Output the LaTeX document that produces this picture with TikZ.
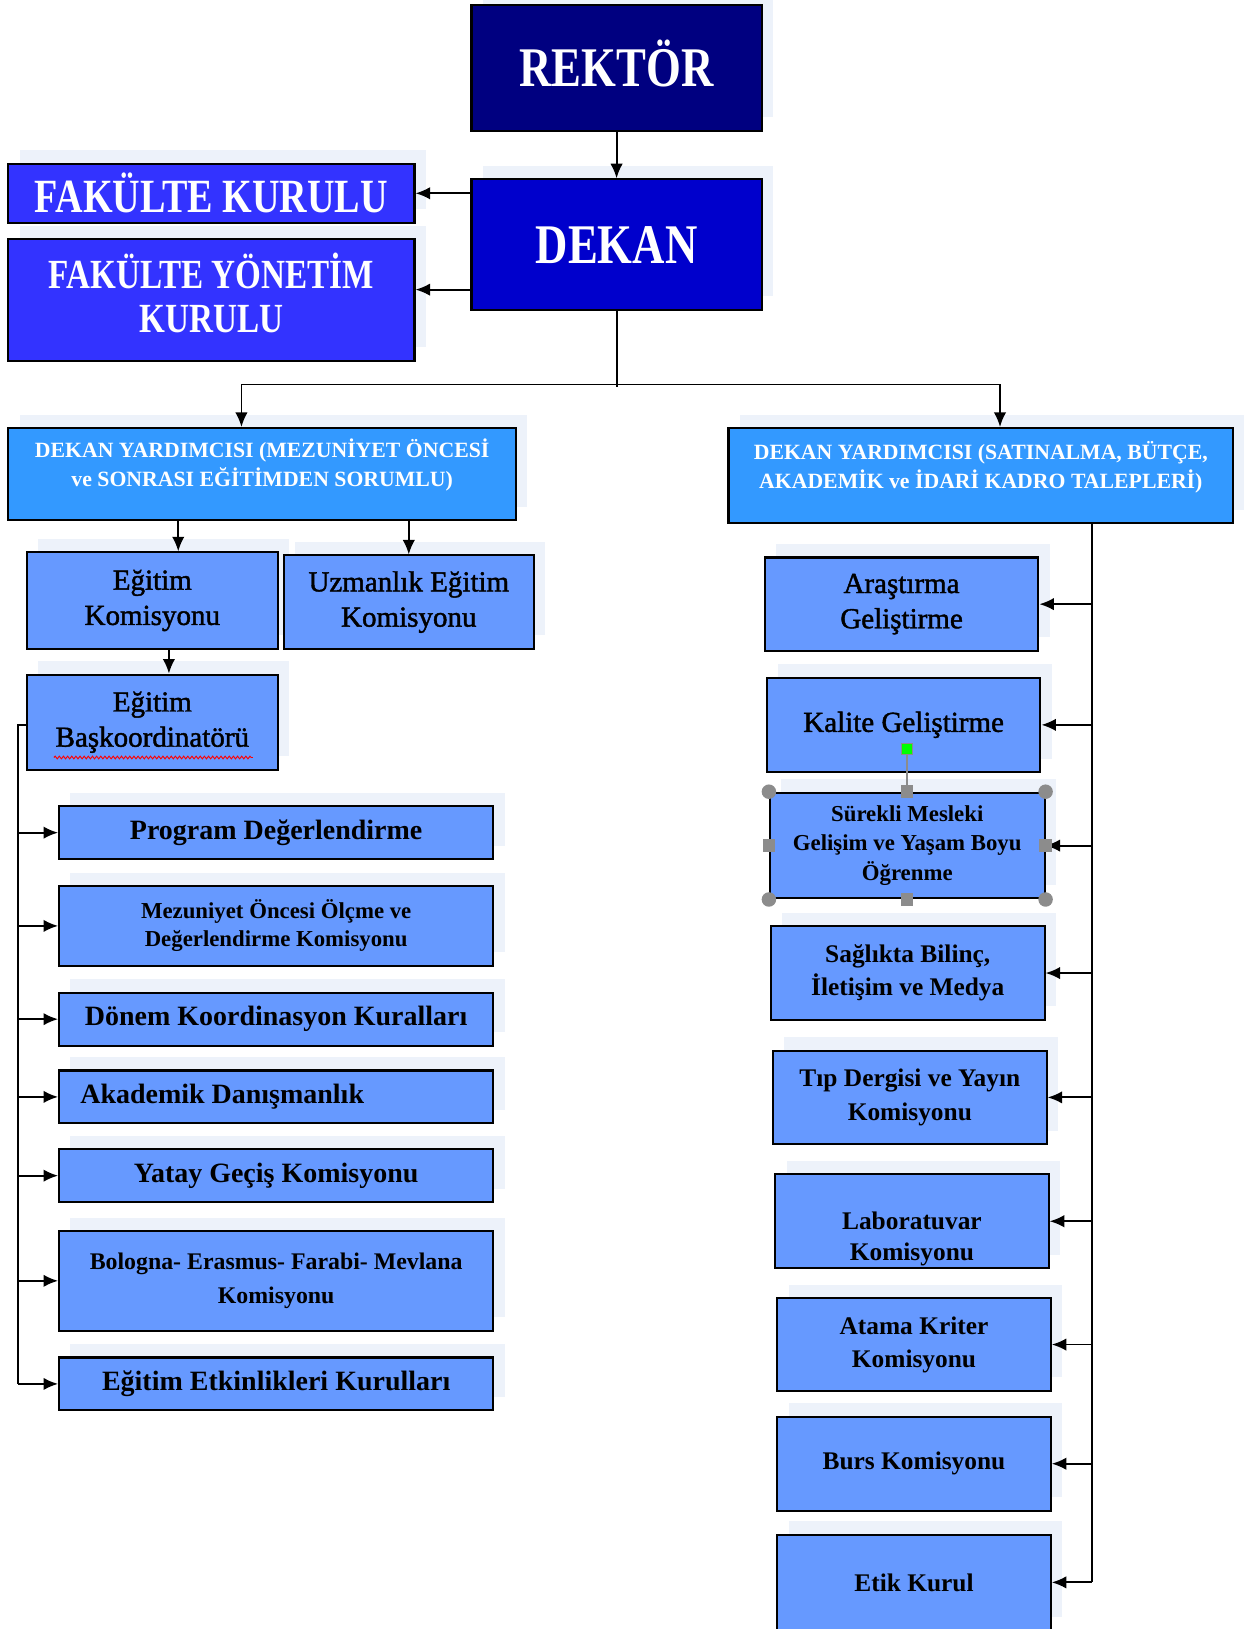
\documentclass[tikz,border=0pt]{standalone}
\usepackage{fontspec}
\setmainfont{Liberation Serif}
\newfontfamily\capfont[FakeStretch=0.8]{Liberation Serif}
\newfontfamily\medfont[UprightFeatures={FakeBold=1.5}]{Liberation Serif}
\usetikzlibrary{calc,arrows.meta,shadows,decorations.pathmorphing}

\definecolor{navyA}{HTML}{000080}
\definecolor{navyB}{HTML}{0000CC}
\definecolor{blueC}{HTML}{3333FF}
\definecolor{blueD}{HTML}{3399FF}
\definecolor{blueE}{HTML}{6699FF}
\definecolor{shade}{HTML}{EDF2FA}
\definecolor{handle}{HTML}{8C8C8C}

\tikzset{
  box/.style={draw=black, line width=2pt, inner sep=0pt, align=center,
    drop shadow={shadow xshift=11pt, shadow yshift=13pt, fill=shade, opacity=1}},
  top/.style={box, text=white, minimum width=280pt, text height=36pt, text depth=0pt,
    font=\capfont\bfseries\fontsize{54}{60}\selectfont},
  fak/.style={box, fill=blueC, text=white, minimum width=392pt},
  faktext/.style={text=white, align=center, font=\capfont\bfseries\fontsize{40}{43}\selectfont},
  dy/.style={box, fill=blueD},
  dytext/.style={text=white, align=center, font=\bfseries\fontsize{21}{28}\selectfont},
  kom/.style={box, fill=blueE, font=\medfont\fontsize{28}{34}\selectfont},
  lbox/.style={box, fill=blueE, minimum width=419pt, minimum height=51pt, font=\bfseries\fontsize{27}{32}\selectfont},
  rbox/.style={box, fill=blueE, minimum width=264pt, minimum height=90pt, font=\bfseries\fontsize{24.5}{32}\selectfont},
  arr/.style={-{Latex[length=14pt,width=12pt]}, line width=1.8pt},
}

\begin{document}
\begin{tikzpicture}[x=1pt, y=-1pt]
    \useasboundingbox (0,0) rectangle (1200,1572);
    \fill[white] (0,0) rectangle (1200,1572);
    % ust kademe
    \node[top, fill=navyA, minimum height=121pt] at (595, 65.5) (rektor) {REKTÖR};
    \node[top, fill=navyB, minimum height=126pt] at (595, 236) (dekan) {DEKAN};
    \node[fak, minimum height=57pt, font=\capfont\bfseries\fontsize{46}{46}\selectfont] at (204, 186.5) (fk) {FAKÜLTE KURULU};
    \node[fak, minimum height=117pt] at (204, 289.5) (fyk) {};
    \node[faktext] at ($(fyk)+(0,-7)$) (fykt) {FAKÜLTE YÖNETİM\\KURULU};
    \node[dy, minimum width=490pt, minimum height=89pt] at (253, 457.5) (dyA) {};
    \node[dytext] at ($(dyA)+(0,-9)$) (dyAt) {DEKAN YARDIMCISI (MEZUNİYET ÖNCESİ\\ve SONRASI EĞİTİMDEN SORUMLU)};
    \node[dy, minimum width=487pt, minimum height=92pt] at (946.5, 459) (dyB) {};
    \node[dytext] at ($(dyB)+(0,-8)$) (dyBt) {DEKAN YARDIMCISI (SATINALMA, BÜTÇE,\\AKADEMİK ve İDARİ KADRO TALEPLERİ)};
    % egitim kolu
    \node[kom, minimum width=242pt, minimum height=93pt] at (147, 579.5) (ek) {Eğitim\\Komisyonu};
    \node[kom, minimum width=241pt, minimum height=90pt] at (394.5, 581) (uek) {Uzmanlık Eğitim\\Komisyonu};
    \node[kom, minimum width=242pt, minimum height=92pt] at (147, 697) (eb) {Eğitim\\Başkoordinatörü};
    \node[lbox] at (266.5, 803.5) (pd) {Program Değerlendirme};
    \node[lbox, minimum height=77pt, font=\bfseries\fontsize{22}{27}\selectfont] at (266.5, 893.5) (mo) {Mezuniyet Öncesi Ölçme ve\\Değerlendirme Komisyonu};
    \node[lbox] at (266.5, 983.5) (dk) {Dönem Koordinasyon Kuralları};
    \node[lbox] at (266.5, 1058.5) (ad) {};
    \node[anchor=west, font=\bfseries\fontsize{27}{32}\selectfont] at ($(ad.west)+(18,0)$) (adt) {Akademik Danışmanlık};
    \node[lbox] at (266.5, 1134.5) (yg) {Yatay Geçiş Komisyonu};
    \node[lbox, minimum height=96pt, font=\bfseries\fontsize{23}{32}\selectfont] at (266.5, 1236) (bo) {Bologna- Erasmus- Farabi- Mevlana\\Komisyonu};
    \node[lbox] at (266.5, 1335.5) (ee) {Eğitim Etkinlikleri Kurulları};
    % idari kol
    \node[kom, minimum width=264pt, minimum height=90pt] at (870, 583) (ag) {Araştırma\\Geliştirme};
    \node[kom, minimum width=264pt, minimum height=91pt] at (872, 699.5) (kg) {Kalite Geliştirme};
    \node[rbox, minimum width=265pt, minimum height=102pt, font=\bfseries\fontsize{22}{28}\selectfont] at (875.5, 816) (sm) {Sürekli Mesleki\\Gelişim ve Yaşam Boyu\\Öğrenme};
    \node[rbox] at (876, 939) (sb) {Sağlıkta Bilinç,\\İletişim ve Medya};
    \node[rbox] at (878, 1059) (td) {Tıp Dergisi ve Yayın\\Komisyonu};
    \node[rbox, minimum height=91pt] at (880, 1178.5) (lk) {};
    \node[align=center, font=\bfseries\fontsize{24.5}{30}\selectfont] at ($(lk)+(0,17)$) (lkt) {Laboratuvar\\Komisyonu};
    \node[rbox, minimum height=89pt] at (882, 1297.5) (ak) {Atama Kriter\\Komisyonu};
    \node[rbox, minimum height=91pt] at (882, 1412.5) (bk) {Burs Komisyonu};
    \node[rbox, minimum height=92pt] at (882, 1527) (et) {Etik Kurul};
    % baglantilar
    \draw[arr] (rektor) -- (dekan);
    \draw[arr] (dekan.west |- fk.east) -- (fk.east);
    \coordinate (fykin) at ($(fyk.east)+(0,-10)$);
    \draw[arr] (dekan.west |- fykin) -- (fykin);
    \coordinate (dyAin) at ($(dyA.north)+(-20,0)$);
    \coordinate (dyBin) at ($(dyB.north)+(18.5,0)$);
    \draw[line width=1.8pt] (dekan.south) -- ($(dekan.south)+(0,73)$);
    \draw[arr] ($(dyBin)+(0,-41)$) -- ($(dyAin)+(0,-41)$) -- (dyAin);
    \draw[arr] ($(dyBin)+(0,-41)$) -- (dyBin);
    \coordinate (ekin) at ($(ek.north)+(25,0)$);
    \draw[arr] (dyA.south -| ekin) -- (ekin);
    \draw[arr] (dyA.south -| uek.north) -- (uek.north);
    \draw[arr] ($(ek.south)+(16,0)$) -- ($(eb.north)+(16,0)$);
    \coordinate (trunkL) at ($(eb.west)+(-8,3)$);
    \draw[line width=1.8pt] (eb.west |- trunkL) -- (trunkL) -- (trunkL |- ee.west);
    \foreach \n in {pd,mo,dk,ad,yg,bo,ee}
        \draw[arr] (trunkL |- \n.west) -- (\n.west);
    \coordinate (trunkR) at ($(dyB.south)+(107,0)$);
    \draw[line width=1.8pt] (trunkR) -- (trunkR |- et.east);
    \foreach \n in {ag,kg,sm,sb,td,lk,ak,bk,et}
        \draw[arr] (trunkR |- \n.east) -- (\n.east);
    % secim tutamaclari ve yazim denetimi izi
    \draw[red, line width=0.9pt, decorate, decoration={snake, amplitude=1.3pt, segment length=4pt}]
        ($(eb.center)+(-95,34)$) -- ($(eb.center)+(97,34)$);
    \draw[handle, line width=1.5pt] (sm.north) -- ($(sm.north)+(0,-40)$);
    \node[fill=green, draw=handle, line width=1pt, minimum size=11pt, inner sep=0pt] at ($(sm.north)+(0,-41)$) (rot) {};
    \foreach \a in {north west, north east, south west, south east}
        \fill[handle] (sm.\a) circle (7);
    \foreach \a in {north, south, west, east}
        \fill[handle] ($(sm.\a)+(-6,-6)$) rectangle ++(12,12);
\end{tikzpicture}
\end{document}
